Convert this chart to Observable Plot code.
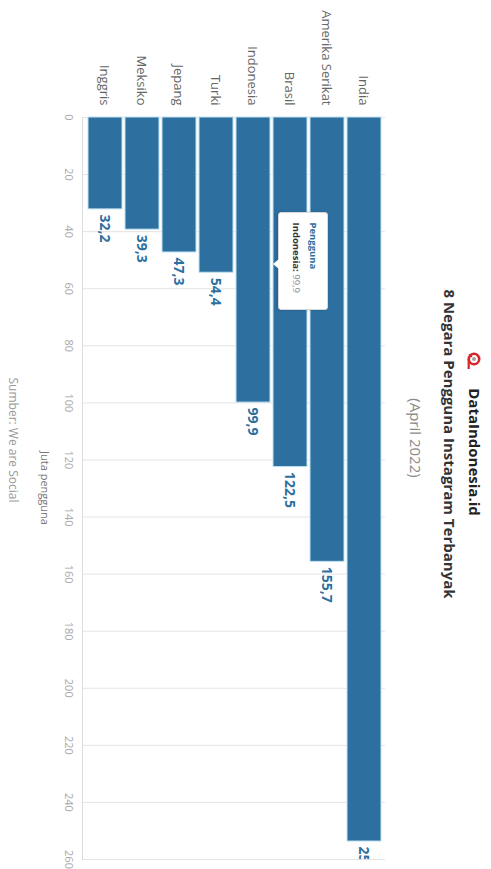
<!DOCTYPE html>
<html>
<head>
<meta charset="utf-8">
<script src="https://cdn.jsdelivr.net/npm/d3@7"></script>
<script src="https://cdn.jsdelivr.net/npm/@observablehq/plot@0.6"></script>
<style>
html, body { margin: 0; padding: 0; background: #fff; overflow: hidden; width: 491px; height: 869px; }
#rot { position: absolute; left: 0; top: 0; width: 869px; height: 491px; transform-origin: 0 0;
  transform: translate(491px, 0) rotate(90deg); font-family: "Open Sans", sans-serif; background: #fff; }
#chart { position: absolute; left: 0; top: 0; }
.t { position: absolute; text-align: center; white-space: nowrap; }
#tip { position: absolute; width: 86px; height: 38px; padding: 5px 0 5px 10px; background: #fff; border: 1px solid #d8d8d8;
  border-radius: 3px; box-shadow: 0 1px 3px rgba(0,0,0,0.18); font-size: 9.5px; line-height: 17px; box-sizing: content-box; }
#tip:after { content: ""; position: absolute; left: 46px; bottom: -6px; width: 0; height: 0;
  border-left: 5px solid transparent; border-right: 5px solid transparent; border-top: 6px solid #fff; }
</style>
</head>
<body>
<div id="rot">
  <div id="chart"></div>
  <div class="t" style="left:0;width:868px;top:5px;font-size:15px;font-weight:700;color:#222;line-height:22px;">
    <svg width="18" height="14" viewBox="0 0 18 14" style="vertical-align:-2px;margin-right:18px">
      <circle cx="7" cy="7" r="5.2" fill="none" stroke="#d6262b" stroke-width="2.6"/>
      <circle cx="7" cy="7" r="2" fill="#9aa39a"/>
      <path d="M7 12.3 L17 12.3" stroke="#d6262b" stroke-width="2.2"/>
      <path d="M5 9 L2.5 12" stroke="#d6262b" stroke-width="1.6"/>
    </svg><span>DataIndonesia.id</span>
  </div>
  <div class="t" style="left:0;width:888px;top:30px;font-size:15px;font-weight:700;color:#333;line-height:22px;">8 Negara Pengguna Instagram Terbanyak</div>
  <div class="t" style="left:0;width:876px;top:64px;font-size:15px;color:#8a8a8a;line-height:22px;">(April 2022)</div>
  <div class="t" style="left:388px;width:200px;top:437px;font-size:11px;color:#777;line-height:18px;">Juta pengguna</div>
  <div class="t" style="left:0;width:880px;top:469px;font-size:12px;color:#9a9a9a;line-height:18px;">Sumber: We are Social</div>
  <div id="tip"><div style="font-weight:700;color:#2d70a0">Pengguna</div><div><b style="color:#333">Indonesia:</b> <span style="color:#888">99,9</span></div></div>
</div>
<script>
const countries = ["India", "Amerika Serikat", "Brasil", "Indonesia", "Turki", "Jepang", "Meksiko", "Inggris"];
const users = [253.7, 155.7, 122.5, 99.9, 54.4, 47.3, 39.3, 32.2];
const xTicks = [0, 20, 40, 60, 80, 100, 120, 140, 160, 180, 200, 220, 240, 260];
const tipCountry = "Indonesia";
const tipHover = 51; // hover position along the value axis

const data = countries.map((c, i) => ({ country: c, value: users[i] }));
const fmt = v => v.toFixed(1).replace(".", ",");
const barColor = "#2d70a0";

const chart = Plot.plot({
  width: 869,
  height: 491,
  marginLeft: 117,
  marginRight: 10,
  marginTop: 106,
  marginBottom: 83,
  style: { fontFamily: "Open Sans, sans-serif", background: "transparent", overflow: "visible" },
  x: { domain: [0, 260] },
  y: { domain: countries, paddingInner: 0.08, paddingOuter: 0.04, label: null },
  marks: [
    Plot.gridX(xTicks, { stroke: "#e4e4e4", strokeOpacity: 1 }),
    Plot.axisX(xTicks, { tickSize: 0, tickPadding: 10, fontSize: 11, color: "#a8a8a8", label: null }),
    Plot.axisY({ tickSize: 0, tickPadding: 12, fontSize: 13, color: "#666", label: null }),
    Plot.frame({ anchor: "bottom", stroke: "#dcdcdc" }),
    Plot.barX(data, { x: "value", y: "country", fill: barColor, stroke: "#bfe2f3", strokeWidth: 1 }),
    Plot.text(data, { x: "value", y: "country", text: d => fmt(d.value), textAnchor: "start", dx: 5,
      fontWeight: 700, fontSize: 14, fill: barColor, clip: true })
  ]
});
document.getElementById("chart").appendChild(chart);

// place the hover tooltip through the plot's own scales
const xs = chart.scale("x"), ys = chart.scale("y");
const px = xs.apply(tipHover);
const py = ys.apply(tipCountry);
const tip = document.getElementById("tip");
tip.style.left = (px - 51) + "px";
tip.style.top = (py - 8 - 50) + "px";
</script>
</body>
</html>
